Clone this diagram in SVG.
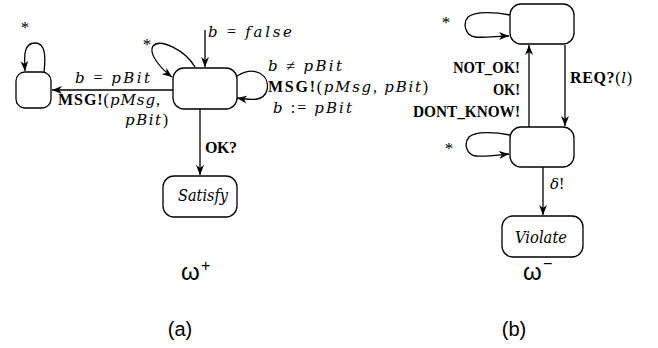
<svg xmlns="http://www.w3.org/2000/svg" width="658" height="348" viewBox="0 0 658 348">
<style>
.node{fill:#fff;stroke:#000;stroke-width:1.3}
.edge{fill:none;stroke:#000;stroke-width:1.3}
.t{font-family:"Liberation Serif","Times New Roman",serif;font-size:16px;fill:#000}
.m{font-family:"DejaVu Serif","Liberation Serif",serif;font-style:italic;font-size:15px}
.b{font-weight:bold}
.n{font-family:"DejaVu Serif","Liberation Serif",serif;font-size:17px;font-style:italic}
.st{font-family:"Liberation Serif",serif;font-size:17px;fill:#000}
.s{font-family:"Liberation Sans",Arial,sans-serif;fill:#000}
</style>
<defs>
<marker id="ah" viewBox="0 0 10 10" refX="10" refY="5" markerWidth="10" markerHeight="10" markerUnits="userSpaceOnUse" orient="auto">
<path d="M0,1 L10,5 L0,9 L3,5 Z" fill="#000"/>
</marker>
</defs>
<g id="connectors">
<path class="edge" d="M44,72 C46,55 45,43 35,43 C24,43 24,55 25,71" marker-end="url(#ah)"/>
<path class="edge" d="M205,30 L205,67" marker-end="url(#ah)"/>
<path class="edge" d="M195,67 C185,50 160,38 153,46 C148,53 160,68 172,77" marker-end="url(#ah)"/>
<path class="edge" d="M237,76 C255,65 270,75 267,90 C264,102 250,100 237,98" marker-end="url(#ah)"/>
<path class="edge" d="M173,90 L52,90" marker-end="url(#ah)"/>
<path class="edge" d="M200,109 L200,175" marker-end="url(#ah)"/>
<path class="edge" d="M510,15 C495,12 475,11 468,17 C462,24 466,36 475,37 C485,38 498,36 509,36" marker-end="url(#ah)"/>
<path class="edge" d="M510,135 C495,132 475,131 469,137 C463,144 467,155 476,156 C486,157 498,155 509,154" marker-end="url(#ah)"/>
<path class="edge" d="M529,127 L529,45" marker-end="url(#ah)"/>
<path class="edge" d="M565,45 L565,126" marker-end="url(#ah)"/>
<path class="edge" d="M543,167 L543,215" marker-end="url(#ah)"/>
</g>
<g id="n_sink"><rect class="node" x="16" y="72" width="35" height="36" rx="9"/></g>
<g id="n_main"><rect class="node" x="173" y="68" width="64" height="41" rx="11"/></g>
<g id="n_satisfy"><rect class="node" x="163" y="176" width="74" height="41" rx="11"/>
<text class="t n" x="178" y="201" textLength="50" lengthAdjust="spacingAndGlyphs">Satisfy</text></g>
<g id="n_top"><rect class="node" x="510" y="4" width="64" height="40" rx="11"/></g>
<g id="n_bottom"><rect class="node" x="510" y="127" width="64" height="40" rx="11"/></g>
<g id="n_violate"><rect class="node" x="502" y="216" width="81" height="41" rx="11"/>
<text class="t n" x="515" y="243" textLength="52" lengthAdjust="spacingAndGlyphs">Violate</text></g>
<g id="labels">
<text class="st" x="25" y="33" text-anchor="middle">*</text>
<text class="st" x="147" y="50" text-anchor="middle">*</text>
<text class="st" x="446" y="28" text-anchor="middle">*</text>
<text class="st" x="449" y="154" text-anchor="middle">*</text>
<text class="t" x="208" y="37" textLength="84"><tspan class="m">b</tspan> = <tspan class="m">false</tspan></text>
<text class="t" x="268" y="71" textLength="74"><tspan class="m">b</tspan> ≠ <tspan class="m">pBit</tspan></text>
<text class="t" x="268" y="92" textLength="160"><tspan class="b">MSG!</tspan>(<tspan class="m">pMsg</tspan>, <tspan class="m">pBit</tspan>)</text>
<text class="t" x="273" y="113" textLength="79"><tspan class="m">b</tspan> := <tspan class="m">pBit</tspan></text>
<text class="t" x="75" y="83" textLength="75"><tspan class="m">b</tspan> = <tspan class="m">pBit</tspan></text>
<text class="t" x="58" y="105" textLength="102"><tspan class="b">MSG!</tspan>(<tspan class="m">pMsg</tspan>,</text>
<text class="t" x="125" y="125" textLength="43"><tspan class="m">pBit</tspan>)</text>
<text class="t b" x="205" y="153" textLength="32">OK?</text>
<text class="s" x="181" y="280" font-size="24">ω</text>
<text class="s" x="201" y="271" font-size="16">+</text>
<text class="s" x="180" y="336" font-size="20" text-anchor="middle">(a)</text>
<text class="t b" x="453" y="73" textLength="67" lengthAdjust="spacingAndGlyphs">NOT_OK!</text>
<text class="t b" x="493" y="95" textLength="27" lengthAdjust="spacingAndGlyphs">OK!</text>
<text class="t b" x="413" y="117" textLength="107" lengthAdjust="spacingAndGlyphs">DONT_KNOW!</text>
<text class="t" x="570" y="83" textLength="62"><tspan class="b">REQ?</tspan>(<tspan class="m">l</tspan>)</text>
<text class="t" x="550" y="189"><tspan class="m">δ</tspan>!</text>
<text class="s" x="523" y="280" font-size="24">ω</text>
<text class="s" x="543" y="269" font-size="16">−</text>
<text class="s" x="514" y="336" font-size="20" text-anchor="middle">(b)</text>
</g>
</svg>
